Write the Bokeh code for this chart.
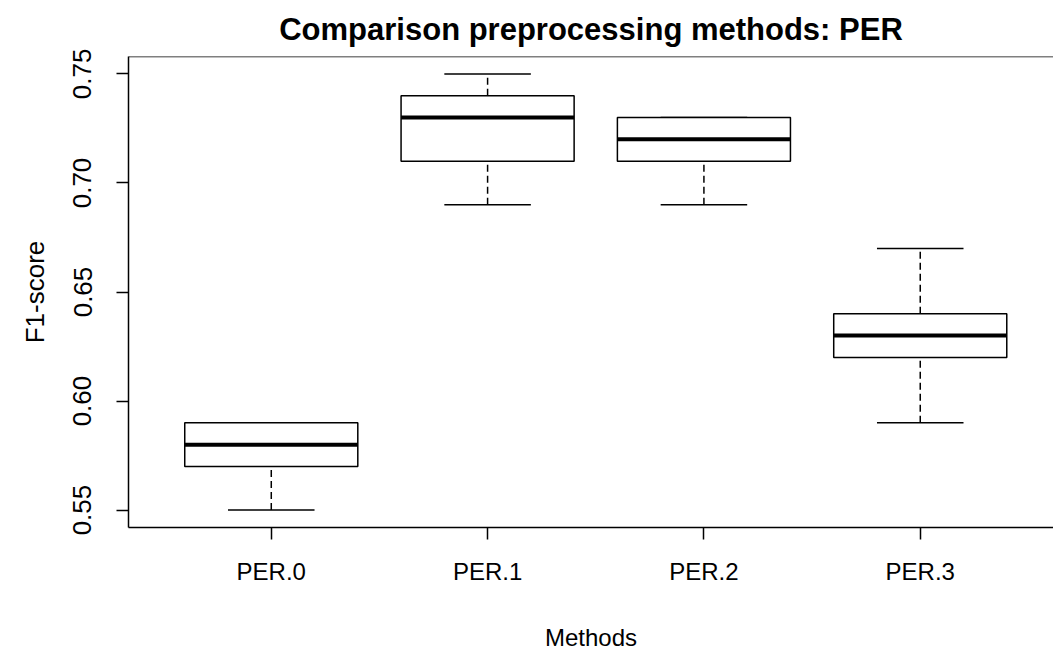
from bokeh.embed import file_html
from bokeh.models import (ColumnDataSource, FixedTicker, LinearAxis, Range1d, Span)
from bokeh.plotting import figure
from bokeh.resources import INLINE

# Five-number summaries of F1-score per preprocessing method
methods = ["PER.0", "PER.1", "PER.2", "PER.3"]
lower_whisker = [0.55, 0.69, 0.69, 0.59]
q1 = [0.57, 0.71, 0.71, 0.62]
median = [0.58, 0.73, 0.72, 0.63]
q3 = [0.59, 0.74, 0.73, 0.64]
upper_whisker = [0.59, 0.75, 0.73, 0.67]
y_ticks = [0.55, 0.60, 0.65, 0.70, 0.75]

FONT = "Liberation Sans"
BOX_W = 0.8
STAPLE_W = 0.4
LW = 1.5
Y_LO, Y_HI = 0.542, 0.758

pos = [i + 1 for i in range(len(methods))]
src = ColumnDataSource(dict(
    x=pos,
    left=[p - BOX_W / 2 for p in pos],
    right=[p + BOX_W / 2 for p in pos],
    sl=[p - STAPLE_W / 2 for p in pos],
    sr=[p + STAPLE_W / 2 for p in pos],
    lo=lower_whisker, q1=q1, med=median, q3=q3, hi=upper_whisker,
))

p = figure(width=1053, height=653, output_backend="svg", toolbar_location=None,
           x_range=Range1d(0.34, 4.616), y_range=Range1d(Y_LO, Y_HI),
           x_axis_location=None, y_axis_location=None,
           min_border_left=128, min_border_right=0,
           min_border_bottom=125, min_border_top=56)
p.outline_line_color = None
p.xgrid.visible = False
p.ygrid.visible = False
p.background_fill_color = "white"
p.border_fill_color = "white"

p.title.text = "Comparison preprocessing methods: PER"
p.title.align = "center"
p.title.text_font = FONT
p.title.text_font_size = "31px"
p.title.text_font_style = "bold"
p.title.text_color = "black"
p.title.offset = 5
p.title.standoff = 19

# axes
xaxis = LinearAxis(ticker=FixedTicker(ticks=pos),
                   major_label_overrides={p_: m for p_, m in zip(pos, methods)},
                   axis_label="Methods")
xaxis.minor_tick_line_color = None
xaxis.major_tick_out = 12
xaxis.major_tick_in = 0
xaxis.major_label_standoff = 18
xaxis.major_label_text_font = FONT
xaxis.major_label_text_font_size = "24px"
xaxis.major_label_text_color = "black"
xaxis.axis_label_text_font = FONT
xaxis.axis_label_text_font_size = "24px"
xaxis.axis_label_text_font_style = "normal"
xaxis.axis_label_text_color = "black"
xaxis.axis_label_standoff = 36
xaxis.axis_line_color = "black"
xaxis.axis_line_width = LW
xaxis.major_tick_line_color = "black"
xaxis.major_tick_line_width = LW
p.add_layout(xaxis, "below")

yaxis = LinearAxis(ticker=FixedTicker(ticks=y_ticks),
                   major_label_overrides={t: f"{t:.2f}" for t in y_ticks},
                   axis_label="F1-score")
yaxis.minor_tick_line_color = None
yaxis.major_tick_out = 12
yaxis.major_tick_in = 0
yaxis.major_label_orientation = "vertical"
yaxis.major_label_standoff = 25
yaxis.major_label_text_font = FONT
yaxis.major_label_text_font_size = "26px"
yaxis.major_label_text_color = "black"
yaxis.axis_label_text_font = FONT
yaxis.axis_label_text_font_size = "26px"
yaxis.axis_label_text_font_style = "normal"
yaxis.axis_label_text_color = "black"
yaxis.axis_label_standoff = 21
yaxis.axis_line_color = "black"
yaxis.axis_line_width = LW
yaxis.major_tick_line_color = "black"
yaxis.major_tick_line_width = LW
p.add_layout(yaxis, "left")

# top edge of the plotting frame
p.add_layout(Span(location=Y_HI, dimension="width",
                  line_color="black", line_width=LW))

# whiskers (dashed) and staples
p.segment(x0="x", y0="q3", x1="x", y1="hi", source=src,
          line_color="black", line_width=LW, line_dash="7 4")
p.segment(x0="x", y0="lo", x1="x", y1="q1", source=src,
          line_color="black", line_width=LW, line_dash="7 4")
p.segment(x0="sl", y0="hi", x1="sr", y1="hi", source=src,
          line_color="black", line_width=LW)
p.segment(x0="sl", y0="lo", x1="sr", y1="lo", source=src,
          line_color="black", line_width=LW)

# boxes and medians
p.quad(left="left", right="right", bottom="q1", top="q3", source=src,
       fill_color="white", line_color="black", line_width=LW)
p.segment(x0="left", y0="med", x1="right", y1="med", source=src,
          line_color="black", line_width=4)

open("out.html", "w").write(file_html(p, INLINE))
